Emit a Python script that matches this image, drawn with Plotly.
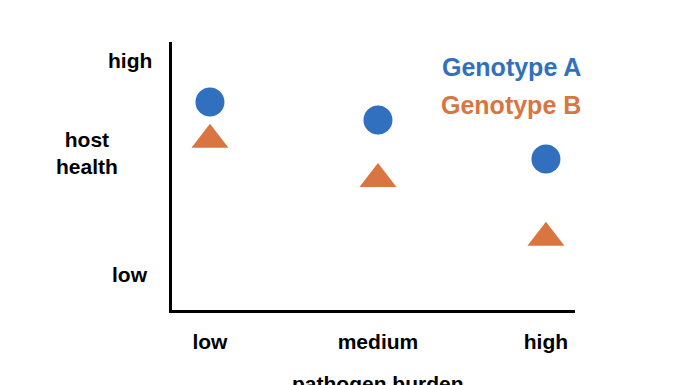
import plotly.graph_objects as go

categories = ["low", "medium", "high"]
genotype_a = [8.05, 7.21, 5.40]
genotype_b = [6.29, 4.46, 1.73]
series_names = ["Genotype A", "Genotype B"]
y_tick_vals = [10, 0]
y_tick_text = ["high", "low"]

BLUE = "#3170BE"
ORANGE = "#D87540"
FONT = "Liberation Sans, Arial, Helvetica, sans-serif"

fig = go.Figure()
fig.add_trace(go.Scatter(x=categories, y=genotype_a, mode="markers", name=series_names[0],
                         marker=dict(symbol="circle", size=29, color=BLUE, line=dict(width=0))))
fig.add_trace(go.Scatter(x=categories, y=genotype_b, mode="markers", name=series_names[1],
                         marker=dict(symbol="triangle-up", size=32, color=ORANGE, line=dict(width=0))))

annotations = []
for v, t in zip(y_tick_vals, y_tick_text):
    annotations.append(dict(x=-0.104, xref="paper", y=v, yref="y", text=t, showarrow=False,
                            xanchor="center", yanchor="middle",
                            font=dict(family=FONT, size=21, color="black", weight="bold")))
annotations.append(dict(x=-0.211, xref="paper", y=0.586, yref="paper", text="host<br>health",
                        showarrow=False, xanchor="center", yanchor="middle", align="center",
                        font=dict(family=FONT, size=21, color="black", weight="bold")))
annotations.append(dict(x=0.51, xref="paper", y=-0.274, yref="paper", text="pathogen burden",
                        showarrow=False, xanchor="center", yanchor="middle",
                        font=dict(family=FONT, size=21, color="black", weight="bold")))
for name, col, yp in zip(series_names, [BLUE, ORANGE], [0.905, 0.765]):
    annotations.append(dict(x=1.02, xref="paper", y=yp, yref="paper", text=name, showarrow=False,
                            xanchor="right", yanchor="middle",
                            font=dict(family=FONT, size=25, color=col, weight="bold")))

fig.update_layout(
    width=696, height=385,
    margin=dict(l=164, r=129, t=34, b=83),
    paper_bgcolor="white", plot_bgcolor="white",
    showlegend=False,
    annotations=annotations,
    xaxis=dict(type="category", categoryorder="array", categoryarray=categories,
               range=[-0.226, 2.173], showline=True, linecolor="black", linewidth=2.5,
               showgrid=False, zeroline=False, ticks="", ticklabelstandoff=11,
               tickfont=dict(family=FONT, size=21, color="black", weight="bold")),
    yaxis=dict(range=[-1.63, 10.84], showline=True, linecolor="black", linewidth=2.5,
               showgrid=False, zeroline=False, ticks="", showticklabels=False),
)

fig.write_html("out.html")
